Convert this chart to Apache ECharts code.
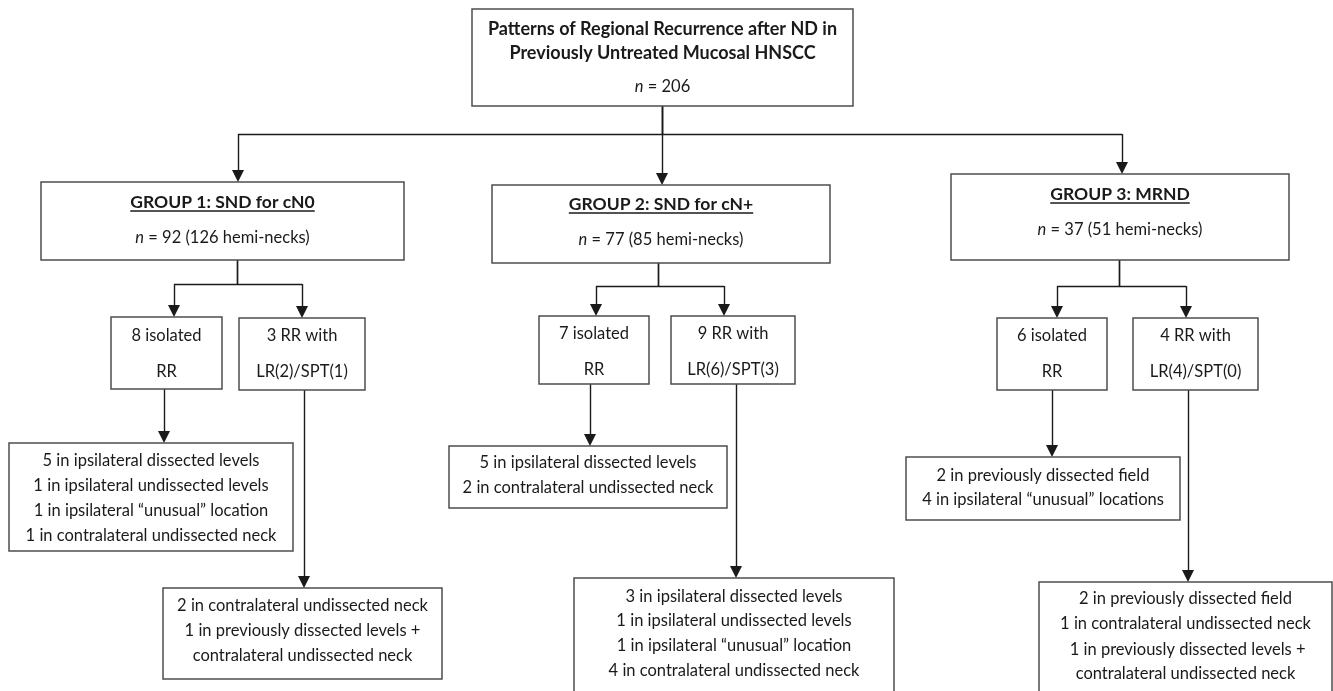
<!DOCTYPE html>
<html>
<head>
<meta charset="utf-8">
<script src="https://cdn.jsdelivr.net/npm/echarts@6/dist/echarts.min.js"></script>
<style>
  html, body { margin: 0; padding: 0; background: #fff; }
  #main { width: 1333px; height: 691px; }
</style>
</head>
<body>
<div id="main"></div>
<script>
// box texts (one array of lines per box)
const boxLabels = [
  ['Patterns of Regional Recurrence after ND in', 'Previously Untreated Mucosal HNSCC', 'n = 206'],
  ['GROUP 1: SND for cN0', 'n = 92 (126 hemi-necks)'],
  ['GROUP 2: SND for cN+', 'n = 77 (85 hemi-necks)'],
  ['GROUP 3: MRND', 'n = 37 (51 hemi-necks)'],
  ['8 isolated', 'RR'],
  ['3 RR with', 'LR(2)/SPT(1)'],
  ['5 in ipsilateral dissected levels', '1 in ipsilateral undissected levels', '1 in ipsilateral \u201cunusual\u201d location', '1 in contralateral undissected neck'],
  ['2 in contralateral undissected neck', '1 in previously dissected levels +', 'contralateral undissected neck'],
  ['7 isolated', 'RR'],
  ['9 RR with', 'LR(6)/SPT(3)'],
  ['5 in ipsilateral dissected levels', '2 in contralateral undissected neck'],
  ['3 in ipsilateral dissected levels', '1 in ipsilateral undissected levels', '1 in ipsilateral \u201cunusual\u201d location', '4 in contralateral undissected neck'],
  ['6 isolated', 'RR'],
  ['4 RR with', 'LR(4)/SPT(0)'],
  ['2 in previously dissected field', '4 in ipsilateral \u201cunusual\u201d locations'],
  ['2 in previously dissected field', '1 in contralateral undissected neck', ' 1 in previously dissected levels +', 'contralateral undissected neck']
];

// layout: box rectangles [x0, y0, x1, y1]
const boxRect = [
  [472, 9, 853, 106],
  [41, 182, 404, 260],
  [492, 185, 830, 263],
  [951, 174, 1289, 260],
  [111, 317, 222, 389],
  [239, 318, 365, 390],
  [9, 443, 293, 551],
  [163, 588, 442, 679],
  [539, 316, 649, 384],
  [671, 316, 795, 384],
  [449, 446, 727, 508],
  [574, 578, 894, 700],
  [997, 318, 1107, 390],
  [1133, 318, 1258, 390],
  [906, 457, 1180, 520],
  [1039, 582, 1332, 700]
];

// layout: centre y of each text line
const boxLineY = [
  [29, 53, 87],
  [202, 238],
  [204, 240],
  [194, 230],
  [336, 372],
  [336, 372],
  [461, 486, 511, 536],
  [606, 631, 656],
  [334, 370],
  [334, 370],
  [463, 488],
  [597, 621, 646, 671],
  [336, 372],
  [336, 372],
  [476, 500],
  [599, 624, 650, 674]
];

// connectors, each ends at the top of the box it points to
const routes = [
  [[662, 106], [662, 134], [238, 134], [238, 182]],
  [[662, 106], [662, 185]],
  [[662, 106], [662, 134], [1122, 134], [1122, 174]],
  [[237, 260], [237, 284], [174, 284], [174, 317]],
  [[237, 260], [237, 284], [302, 284], [302, 318]],
  [[164, 389], [164, 443]],
  [[304, 390], [304, 588]],
  [[658, 263], [658, 286], [596, 286], [596, 316]],
  [[658, 263], [658, 286], [724, 286], [724, 316]],
  [[590, 384], [590, 446]],
  [[736, 384], [736, 578]],
  [[1119, 260], [1119, 286], [1057, 286], [1057, 318]],
  [[1119, 260], [1119, 286], [1186, 286], [1186, 318]],
  [[1052, 390], [1052, 457]],
  [[1188, 390], [1188, 582]]
];

const FONT = 'Lato';
const FS = 16.5;
const FS_BOLD = 17.5;
const FS_TITLE = 18;
const ARROW = [9, 12];

const ctx = document.createElement('canvas').getContext('2d');
function textWidth(str) {
  ctx.font = 'bold ' + FS_BOLD + 'px ' + FONT;
  return ctx.measureText(str).width;
}

// split routes into plain segments and final arrow segments
const plainSegs = [];
const arrowSegs = [];
routes.forEach(function (r) {
  for (let i = 0; i < r.length - 2; i++) plainSegs.push({ coords: [r[i], r[i + 1]] });
  const a = r[r.length - 2], b = r[r.length - 1];
  arrowSegs.push({ coords: [a, [b[0], b[1] - ARROW[1] / 2]] });
});

function renderBox(params, api) {
  const i = api.value(4);
  const p0 = api.coord([api.value(0), api.value(1)]);
  const p1 = api.coord([api.value(2), api.value(3)]);
  const cx = (p0[0] + p1[0]) / 2;
  const children = [{
    type: 'rect',
    shape: { x: p0[0], y: p0[1], width: p1[0] - p0[0], height: p1[1] - p0[1] },
    style: { fill: '#fff', stroke: '#4d4d4d', lineWidth: 1.5 }
  }];
  boxLabels[i].forEach(function (line, k) {
    const y = api.coord([0, boxLineY[i][k]])[1];
    const isTitle = i === 0 && k < 2;
    const isGroup = i >= 1 && i <= 3 && k === 0;
    const bold = isTitle || isGroup;
    let text = line;
    if (line.indexOf('n = ') === 0) text = '{it|n}' + line.slice(1);
    children.push({
      type: 'text',
      style: {
        text: text, x: cx, y: y, align: 'center', verticalAlign: 'middle',
        fontFamily: FONT, fontSize: isTitle ? FS_TITLE : (bold ? FS_BOLD : FS),
        fontWeight: bold ? 'bold' : 'normal', fill: '#1a1a1a',
        rich: { it: { fontFamily: FONT, fontSize: FS, fontStyle: 'italic', fill: '#1a1a1a' } }
      }
    });
    if (isGroup) {
      const w = textWidth(line);
      children.push({
        type: 'line',
        shape: { x1: cx - w / 2, y1: y + 9, x2: cx + w / 2, y2: y + 9 },
        style: { stroke: '#1a1a1a', lineWidth: 1.4 }
      });
    }
  });
  return { type: 'group', children: children };
}

const chart = echarts.init(document.getElementById('main'));
chart.setOption({
  animation: false,
  grid: { left: 0, right: 0, top: 0, bottom: 0 },
  xAxis: { type: 'value', min: 0, max: 1333, show: false },
  yAxis: { type: 'value', min: 0, max: 691, inverse: true, show: false },
  series: [
    {
      type: 'lines', coordinateSystem: 'cartesian2d', silent: true,
      symbol: ['none', 'none'],
      lineStyle: { color: '#1a1a1a', width: 1.4, opacity: 1, curveness: 0 },
      data: plainSegs
    },
    {
      type: 'lines', coordinateSystem: 'cartesian2d', silent: true,
      symbol: ['none', 'triangle'], symbolSize: ARROW,
      lineStyle: { color: '#1a1a1a', width: 1.4, opacity: 1, curveness: 0 },
      data: arrowSegs
    },
    {
      type: 'custom', silent: true,
      renderItem: renderBox,
      data: boxRect.map(function (r, i) { return [r[0], r[1], r[2], r[3], i]; })
    }
  ]
});
</script>
</body>
</html>
